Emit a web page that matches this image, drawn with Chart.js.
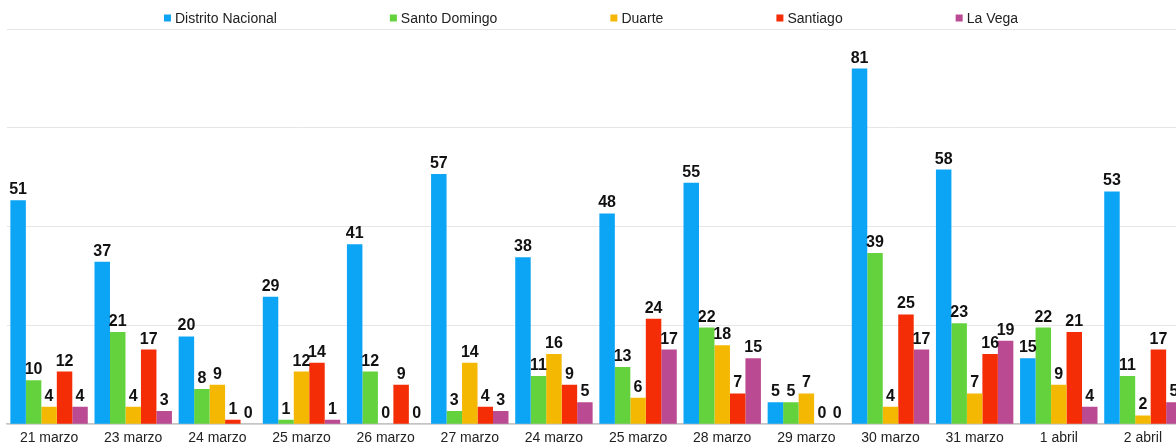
<!DOCTYPE html>
<html>
<head>
<meta charset="utf-8">
<script src="https://cdn.jsdelivr.net/npm/chart.js@4"></script>
<style>
  html, body { margin: 0; padding: 0; background: #fff; overflow: hidden; }
  #wrap { width: 1190px; height: 453px; position: relative; }
</style>
</head>
<body>
<div id="wrap"><canvas id="chart1"></canvas></div>
<script>
const days = ['21 marzo', '23 marzo', '24 marzo', '25 marzo', '26 marzo', '27 marzo', '24 marzo',
              '25 marzo', '28 marzo', '29 marzo', '30 marzo', '31 marzo', '1 abril', '2 abril'];

const distritoNacional = [51, 37, 20, 29, 41, 57, 38, 48, 55, 5, 81, 58, 15, 53];
const santoDomingo     = [10, 21, 8, 1, 12, 3, 11, 13, 22, 5, 39, 23, 22, 11];
const duarte           = [4, 4, 9, 12, 0, 14, 16, 6, 18, 7, 4, 7, 9, 2];
const santiago         = [12, 17, 1, 14, 9, 4, 9, 24, 7, 0, 25, 16, 21, 17];
const laVega           = [4, 3, 0, 1, 0, 3, 5, 17, 15, 0, 17, 19, 4, 5];

const FONT = "'Liberation Sans', Arial, sans-serif";

Chart.defaults.font.family = FONT;
Chart.defaults.maintainAspectRatio = false;

// numbers over each bar
const barValues = {
    id: 'barValues',
    afterDatasetsDraw(chart) {
        const ctx = chart.ctx;
        ctx.save();
        ctx.font = 'bold 16px ' + FONT;
        ctx.fillStyle = '#111';
        ctx.textAlign = 'center';
        ctx.textBaseline = 'alphabetic';
        chart.data.datasets.forEach((ds, i) => {
            chart.getDatasetMeta(i).data.forEach((bar, j) => {
                ctx.fillText(ds.data[j], bar.x, bar.y - 6);
            });
        });
        ctx.restore();
    }
};

// legend spread across the top, google-charts style
const topLegend = {
    id: 'topLegend',
    afterDraw(chart) {
        const ctx = chart.ctx;
        const box = 7, gapText = 4, gapItem = 113;
        ctx.save();
        ctx.font = '14px ' + FONT;
        const widths = chart.data.datasets.map(ds => box + gapText + ctx.measureText(ds.label).width);
        const total = widths.reduce((a, b) => a + b, 0) + gapItem * (widths.length - 1);
        let x = (chart.chartArea.left + chart.chartArea.right) / 2 - 5 - total / 2;
        const y = 18;
        ctx.textBaseline = 'middle';
        chart.data.datasets.forEach((ds, i) => {
            ctx.fillStyle = ds.backgroundColor;
            ctx.fillRect(x, y - box / 2, box, box);
            ctx.fillStyle = '#222';
            ctx.fillText(ds.label, x + box + gapText, y + 1);
            x += widths[i] + gapItem;
        });
        ctx.restore();
    }
};

new Chart('chart1', {
    type: 'bar',
    data: {
        labels: days,
        datasets: [
            { label: 'Distrito Nacional', data: distritoNacional, backgroundColor: '#0ca4f4' },
            { label: 'Santo Domingo', data: santoDomingo, backgroundColor: '#64d23c' },
            { label: 'Duarte', data: duarte, backgroundColor: '#f5b802' },
            { label: 'Santiago', data: santiago, backgroundColor: '#f42d06' },
            { label: 'La Vega', data: laVega, backgroundColor: '#ba4a91' }
        ]
    },
    options: {
        animation: false,
        responsive: true,
        layout: { padding: { left: 7, right: 5, top: 29, bottom: 0 } },
        datasets: {
            bar: { categoryPercentage: 0.92, barPercentage: 1.0 }
        },
        plugins: {
            legend: { display: false },
            tooltip: { enabled: false }
        },
        scales: {
            x: {
                grid: { display: false, drawTicks: false },
                border: { color: '#c4c4c4', width: 1.5 },
                ticks: { color: '#222', font: { size: 14 }, padding: 6, autoSkip: false, maxRotation: 0 }
            },
            y: {
                min: 0,
                max: 90,
                ticks: { display: false, stepSize: 22.5 },
                grid: { color: '#e6e6e6', drawTicks: false },
                border: { display: false }
            }
        }
    },
    plugins: [barValues, topLegend]
});
</script>
</body>
</html>
